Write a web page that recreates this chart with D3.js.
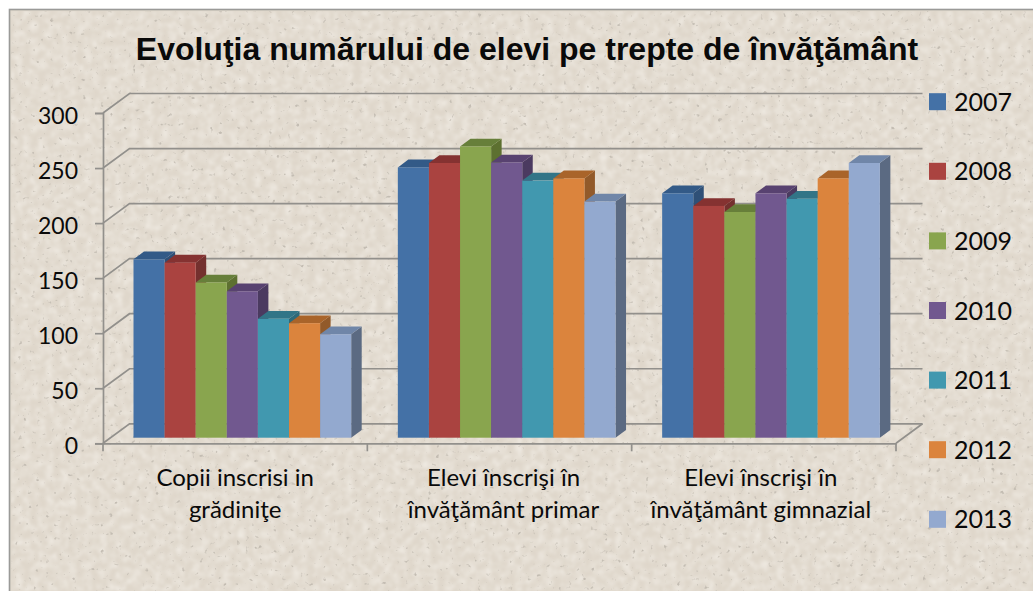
<!DOCTYPE html>
<html>
<head>
<meta charset="utf-8">
<script src="https://cdn.jsdelivr.net/npm/d3@7"></script>
<style>
  html, body { margin: 0; padding: 0; background: #fff; overflow: hidden; }
  text { fill: #0a0a0a; }
</style>
</head>
<body>
<div id="chart"></div>
<script>
// values
const categories = ["Copii inscrisi in grădiniţe", "Elevi înscrişi în învăţământ primar", "Elevi înscrişi în învăţământ gimnazial"];
const categoryLines = [
  ["Copii inscrisi in", "grădiniţe"],
  ["Elevi înscrişi în", "învăţământ primar"],
  ["Elevi înscrişi în", "învăţământ gimnazial"]
];
const years = ["2007", "2008", "2009", "2010", "2011", "2012", "2013"];
const values2007 = [162, 245.5, 222];
const values2008 = [159, 249.5, 210.5];
const values2009 = [141, 264.5, 205];
const values2010 = [133, 250, 222];
const values2011 = [108, 233.5, 217];
const values2012 = [104, 235.5, 235.5];
const values2013 = [94, 214.5, 249.5];
const seriesValues = [values2007, values2008, values2009, values2010, values2011, values2012, values2013];
const yTicks = [0, 50, 100, 150, 200, 250, 300];

const frontColors = ["#4471a6", "#aa4340", "#89a54e", "#71588f", "#4198af", "#db843d", "#93a9cf"];
const topColors = ["#335a87", "#853231", "#677f3a", "#584270", "#327587", "#a9642a", "#7086a8"];
const sideColors = ["#2f5077", "#74302e", "#5d7030", "#4b3a60", "#2d6a7a", "#925a2a", "#5b6a82"];

const width = 1033, height = 591;
const gridColor = "#92908c";

const svg = d3.select("#chart").append("svg")
  .attr("width", width)
  .attr("height", height)
  .style("display", "block");

const defs = svg.append("defs");

// paper texture: soft blotches plus a few dark specks
const blotch = defs.append("filter")
  .attr("id", "blotch")
  .attr("x", 0).attr("y", 0).attr("width", "100%").attr("height", "100%");
blotch.append("feTurbulence")
  .attr("type", "fractalNoise")
  .attr("baseFrequency", 0.13)
  .attr("numOctaves", 3)
  .attr("seed", 4);
blotch.append("feColorMatrix")
  .attr("type", "matrix")
  .attr("values", "0 0 0 0 0.93  0 0 0 0 0.90  0 0 0 0 0.85  1.2 0 0 0 -0.42");
blotch.append("feGaussianBlur").attr("stdDeviation", 0.8);

const speck = defs.append("filter")
  .attr("id", "speck")
  .attr("x", 0).attr("y", 0).attr("width", "100%").attr("height", "100%");
speck.append("feTurbulence")
  .attr("type", "fractalNoise")
  .attr("baseFrequency", 0.22)
  .attr("numOctaves", 2)
  .attr("seed", 11);
speck.append("feColorMatrix")
  .attr("type", "matrix")
  .attr("values", "0 0 0 0 0.55  0 0 0 0 0.51  0 0 0 0 0.45  6 0 0 0 -4.1");
speck.append("feGaussianBlur").attr("stdDeviation", 0.6);

svg.append("rect")
  .attr("x", 9.5).attr("y", 9.5)
  .attr("width", width).attr("height", height)
  .attr("fill", "#dfd7cb")
  .attr("stroke", "#9a9a98")
  .attr("stroke-width", 1.6);
svg.append("rect")
  .attr("x", 11).attr("y", 11)
  .attr("width", width - 11).attr("height", height - 11)
  .attr("filter", "url(#blotch)");
svg.append("rect")
  .attr("x", 11).attr("y", 11)
  .attr("width", width - 11).attr("height", height - 11)
  .attr("filter", "url(#speck)");

// scales: the front plane of the box, the back wall is shifted by depth
const y = d3.scaleLinear().domain([0, 300]).range([443.3, 113]);
const x0 = d3.scaleBand().domain(categories).range([103, 896]);
const x1 = d3.scaleBand().domain(years).range([30.5, 248.2]);
const wall = {dx: 26.5, dy: -19.5};
const barDepth = {dx: 10.5, dy: -7.8};
const barShift = -5.6; // bars stand a little behind the front edge of the floor

// walls
const grid = svg.append("g")
  .attr("fill", "none")
  .attr("stroke", gridColor)
  .attr("stroke-width", 1.7);

yTicks.forEach(function(t) {
  grid.append("polyline")
    .attr("points", [
      [x0.range()[0], y(t)],
      [x0.range()[0] + wall.dx, y(t) + wall.dy],
      [x0.range()[1] + wall.dx, y(t) + wall.dy]
    ].join(" "));
});
// right edge of the floor
grid.append("line")
  .attr("x1", x0.range()[1]).attr("y1", y(0))
  .attr("x2", x0.range()[1] + wall.dx).attr("y2", y(0) + wall.dy);

// y axis
const yAxis = d3.axisLeft(y).tickValues(yTicks).tickSize(8).tickPadding(17);
const yG = svg.append("g").attr("transform", `translate(${x0.range()[0]},0)`).call(yAxis);
yG.select(".domain").attr("stroke", gridColor).attr("stroke-width", 1.7);
yG.selectAll(".tick line").attr("stroke", gridColor).attr("stroke-width", 1.7);
yG.selectAll(".tick text")
  .attr("font-family", "Lato")
  .attr("font-size", 23)
  .attr("dy", "0.45em")
  .style("fill", "#0a0a0a");

// x axis
const xAxis = d3.axisBottom(x0).tickSize(0).tickFormat("");
const xG = svg.append("g").attr("transform", `translate(0,${y(0)})`).call(xAxis);
xG.select(".domain").attr("stroke", gridColor).attr("stroke-width", 1.7);
const xTicks = d3.range(categories.length + 1).map(i => x0.range()[0] + i * x0.step());
xG.selectAll("line.sep")
  .data(xTicks)
  .enter().append("line")
  .attr("class", "sep")
  .attr("x1", d => d).attr("x2", d => d)
  .attr("y1", 0).attr("y2", 8)
  .attr("stroke", gridColor)
  .attr("stroke-width", 1.7);

// bars, left to right so each front hides the side of the bar before it
const bars = svg.append("g");
categories.forEach(function(cat, c) {
  years.forEach(function(year, s) {
    const left = x0(cat) + x1(year);
    const right = left + x1.bandwidth();
    const base = y(0) + barShift;
    const top = base - (y(0) - y(seriesValues[s][c]));
    const g = bars.append("g");
    g.append("polygon")
      .attr("points", [[right, top], [right + barDepth.dx, top + barDepth.dy],
        [right + barDepth.dx, base + barDepth.dy], [right, base]].join(" "))
      .attr("fill", sideColors[s]);
    g.append("polygon")
      .attr("points", [[left, top], [left + barDepth.dx, top + barDepth.dy],
        [right + barDepth.dx, top + barDepth.dy], [right, top]].join(" "))
      .attr("fill", topColors[s]);
    g.append("rect")
      .attr("x", left).attr("y", top)
      .attr("width", x1.bandwidth()).attr("height", base - top)
      .attr("fill", frontColors[s]);
  });
});

// category labels, nudged a bit because the original wraps them unevenly
const labelNudge = [0, 4, -3];
categories.forEach(function(cat, c) {
  const cx = x0(cat) + x0.bandwidth() / 2 + labelNudge[c];
  const label = svg.append("text")
    .attr("text-anchor", "middle")
    .attr("font-family", "Lato")
    .attr("font-size", 24);
  categoryLines[c].forEach(function(line, i) {
    label.append("tspan").attr("x", cx).attr("y", 486 + i * 32).text(line);
  });
});

// title
svg.append("text")
  .attr("x", 527).attr("y", 60)
  .attr("text-anchor", "middle")
  .attr("font-family", "Liberation Sans")
  .attr("font-weight", "bold")
  .attr("font-size", 32)
  .text("Evoluţia numărului de elevi pe trepte de învăţământ");

// legend
const legendY = d3.scalePoint().domain(years).range([101.7, 519.3]);
const legend = svg.append("g").selectAll("g")
  .data(years)
  .enter().append("g")
  .attr("transform", d => `translate(929,${legendY(d)})`);
legend.append("rect")
  .attr("x", 0).attr("y", -8.5)
  .attr("width", 17).attr("height", 17)
  .attr("fill", (d, i) => frontColors[i]);
legend.append("text")
  .attr("x", 25).attr("dy", "0.36em")
  .attr("font-family", "Lato")
  .attr("font-size", 25)
  .text(d => d);
</script>
</body>
</html>
